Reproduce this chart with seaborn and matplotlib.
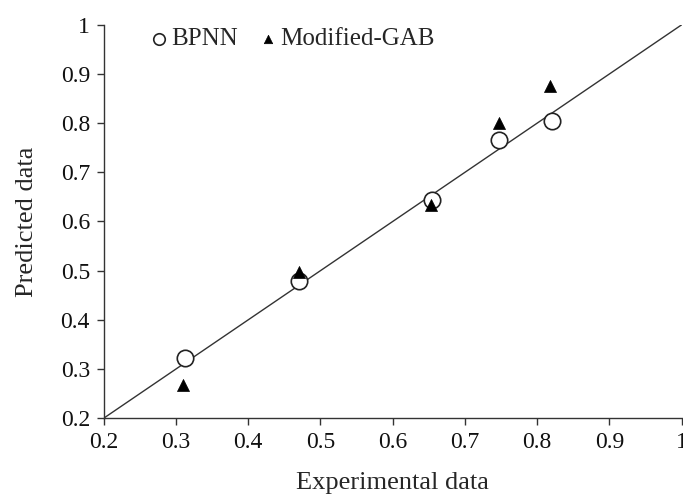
import numpy as np
import pandas as pd
import matplotlib.pyplot as plt
import seaborn as sns

# data
bpnn_exp = [0.312, 0.470, 0.655, 0.747, 0.820]
bpnn_pred = [0.322, 0.479, 0.643, 0.766, 0.804]
gab_exp = [0.310, 0.470, 0.653, 0.747, 0.818]
gab_pred = [0.267, 0.497, 0.633, 0.800, 0.876]
diag = [0.2, 1.0]
ticks = [0.2, 0.3, 0.4, 0.5, 0.6, 0.7, 0.8, 0.9, 1.0]
tick_labels = ["0.2", "0.3", "0.4", "0.5", "0.6", "0.7", "0.8", "0.9", "1"]

sns.set_style("ticks")
plt.rcParams['font.family'] = ['Liberation Serif', 'DejaVu Serif']

fig = plt.figure(figsize=(6.83, 4.96), dpi=100)
ax = fig.add_axes([0.152, 0.157, 0.846, 0.793])

# 1:1 line
sns.lineplot(x=diag, y=diag, ax=ax, color='#333333', lw=1.0, legend=False)

sns.scatterplot(x=bpnn_exp, y=bpnn_pred, ax=ax, marker='o', s=140,
                facecolor='white', edgecolor='#222222', linewidth=1.2,
                label='BPNN', zorder=3)
sns.scatterplot(x=gab_exp, y=gab_pred, ax=ax, marker='^', s=75,
                color='black', edgecolor='black', linewidth=0.5,
                label='Modified-GAB', zorder=4)

ax.set_xlim(0.2, 1.0)
ax.set_ylim(0.2, 1.0)
ax.set_xticks(ticks)
ax.set_xticklabels(tick_labels)
ax.set_yticks(ticks)
ax.set_yticklabels(tick_labels)
ax.tick_params(axis='both', labelsize=17, length=5, width=1, color='#333333',
               labelcolor='#111111', direction='out', pad=5)
ax.set_xlabel('Experimental data', fontsize=19, labelpad=14)
ax.set_ylabel('Predicted data', fontsize=19, labelpad=16)
sns.despine(ax=ax)
for sp in ['left', 'bottom']:
    ax.spines[sp].set_color('#333333')
    ax.spines[sp].set_linewidth(1.0)

leg = ax.legend(loc='upper left', bbox_to_anchor=(0.03, 1.05), ncol=2,
                frameon=False, fontsize=18, handletextpad=-0.1,
                handlelength=1.2, columnspacing=0.6, markerscale=0.7)

fig.savefig('out.png', dpi=100)
